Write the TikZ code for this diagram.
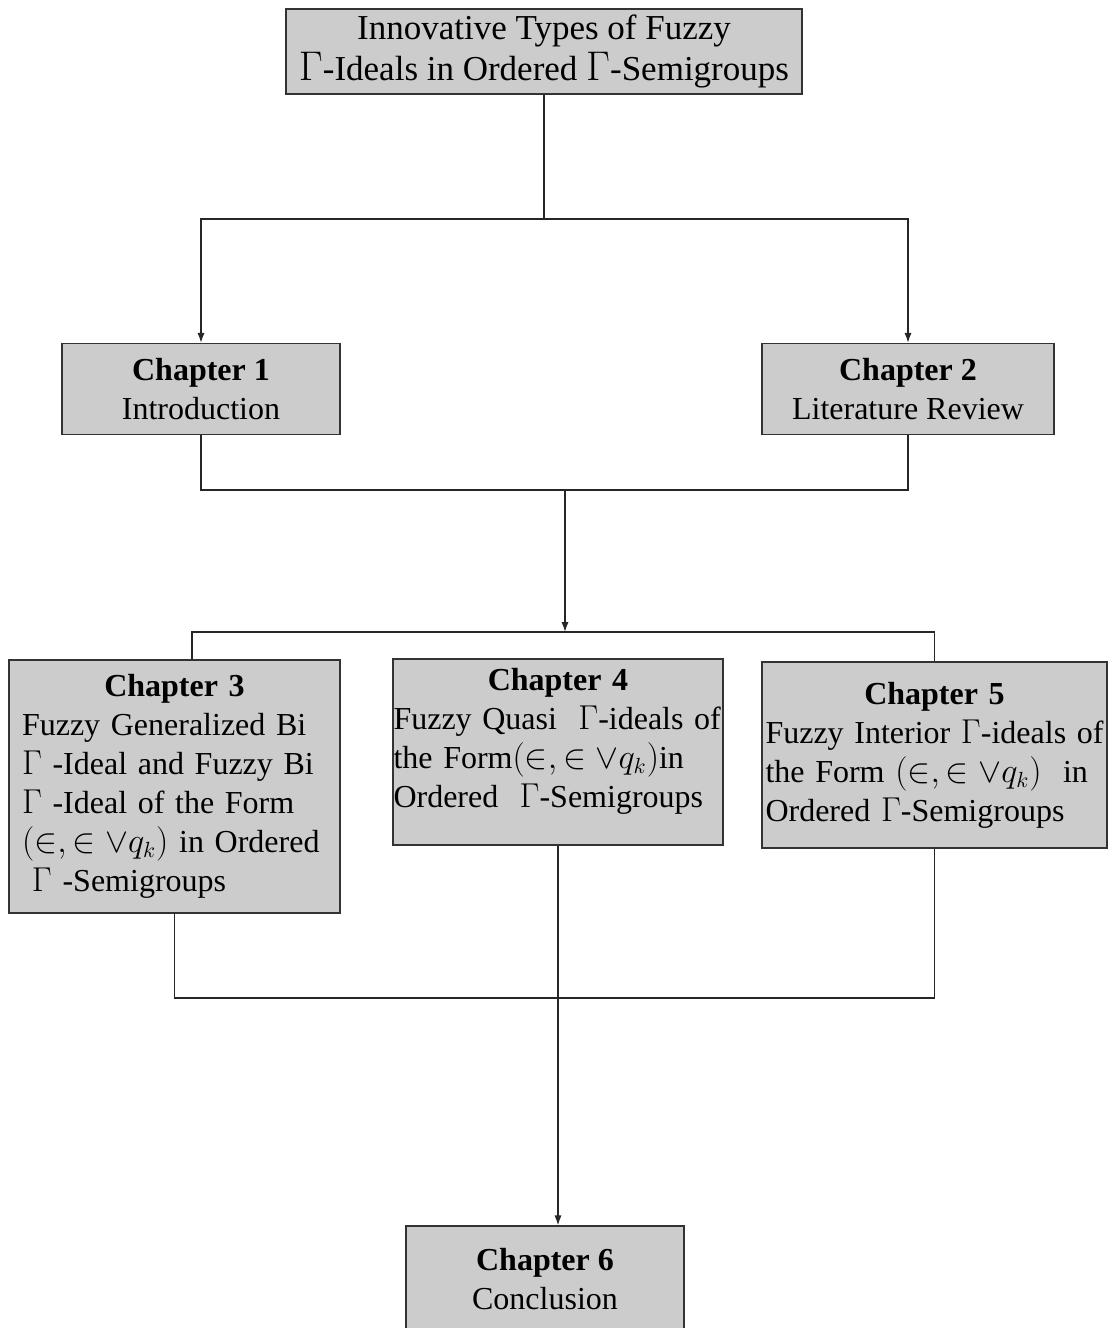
\documentclass[tikz,border=0pt]{standalone}
\usepackage{amsmath,amssymb}
\usepackage{fontspec}
\setmainfont{Liberation Serif}
\usepackage{tikz}
\usetikzlibrary{arrows.meta}
\newcommand{\boxfont}{\fontsize{16}{19.5}\selectfont}
\newcommand{\titlefont}{\fontsize{17.5}{20.5}\selectfont}
\newcommand{\bigG}{{\fontsize{21}{20.5}\selectfont$\Gamma$}}
\tikzset{chapbox/.style={draw=black!80, fill=black!20, line width=.6pt, inner sep=0pt, font=\boxfont},
         link/.style={line width=.7pt, black!85},
         tip/.style={-{Latex[length=5pt,width=3.6pt]}}}

\begin{document}
\begin{tikzpicture}[x=.5pt,y=-.5pt]
        \useasboundingbox (0,0) rectangle (1111,1328);
        \node (top) at (544,51.5) [chapbox, minimum width=258pt, minimum height=42.5pt, align=center, font=\titlefont] {Innovative Types of Fuzzy\\\bigG-Ideals in Ordered \bigG-Semigroups};
        \node (ch1) at (201,389) [chapbox, minimum width=139pt, minimum height=45.5pt, align=center] {\textbf{Chapter 1}\\Introduction};
        \node (ch2) at (908,389) [chapbox, minimum width=146pt, minimum height=45.5pt, align=center] {\textbf{Chapter 2}\\Literature Review};
        \node (ch3) at (174.5,786.5) [chapbox, minimum width=165.5pt, minimum height=126.5pt, text width=152.5pt, align=left] {{\centering\textbf{Chapter 3}\par}\mbox{Fuzzy Generalized Bi}\\\mbox{$\Gamma$ -Ideal and Fuzzy Bi}\\\mbox{$\Gamma$ -Ideal of the Form}\\\mbox{$(\in,\in\vee q_k)$ in Ordered}\\\hspace*{5pt}$\Gamma$ -Semigroups};
        \node (ch4) at (558,752) [chapbox, minimum width=165pt, minimum height=93pt, text width=164.5pt, align=left] {{\centering\textbf{Chapter 4}\par}\mbox{Fuzzy Quasi\ \ $\Gamma$-ideals of}\\\mbox{the Form$(\in,\in\vee q_k)$in}\\\mbox{Ordered\ \ $\Gamma$-Semigroups}\rule[-14pt]{0pt}{1pt}};
        \node (ch5) at (934.5,755) [chapbox, minimum width=172.5pt, minimum height=93pt, text width=169pt, align=left] {{\centering\textbf{Chapter 5}\par}\mbox{Fuzzy Interior $\Gamma$-ideals of}\\\mbox{the Form $(\in,\in\vee q_k)$\ \ in}\\\mbox{Ordered $\Gamma$-Semigroups}};
        \node (ch6) at (545,1279) [chapbox, minimum width=139pt, minimum height=53pt, align=center] {\textbf{Chapter 6}\\Conclusion};
        \coordinate (fork1) at (544,219);
        \coordinate (join1) at (565,490);
        \coordinate (fork2) at (565,632);
        \coordinate (c3) at (192,632);
        \coordinate (join2) at (558,998);
        \draw[link] (top) to (fork1);
        \draw[link, tip] (fork1) -| (ch1.north);
        \draw[link, tip] (fork1) -| (ch2.north);
        \draw[link] (ch1.south) |- (join1) -| (ch2.south);
        \draw[link, tip] (join1) to (fork2);
        \draw[link] (c3 |- ch3.north) |- (fork2) -| (ch5.north);
        \draw[link] (ch3.south) |- (join2) -| (ch5.south);
        \draw[link, tip] (ch4.south) to (ch4.south |- ch6.north);
\end{tikzpicture}
\end{document}
